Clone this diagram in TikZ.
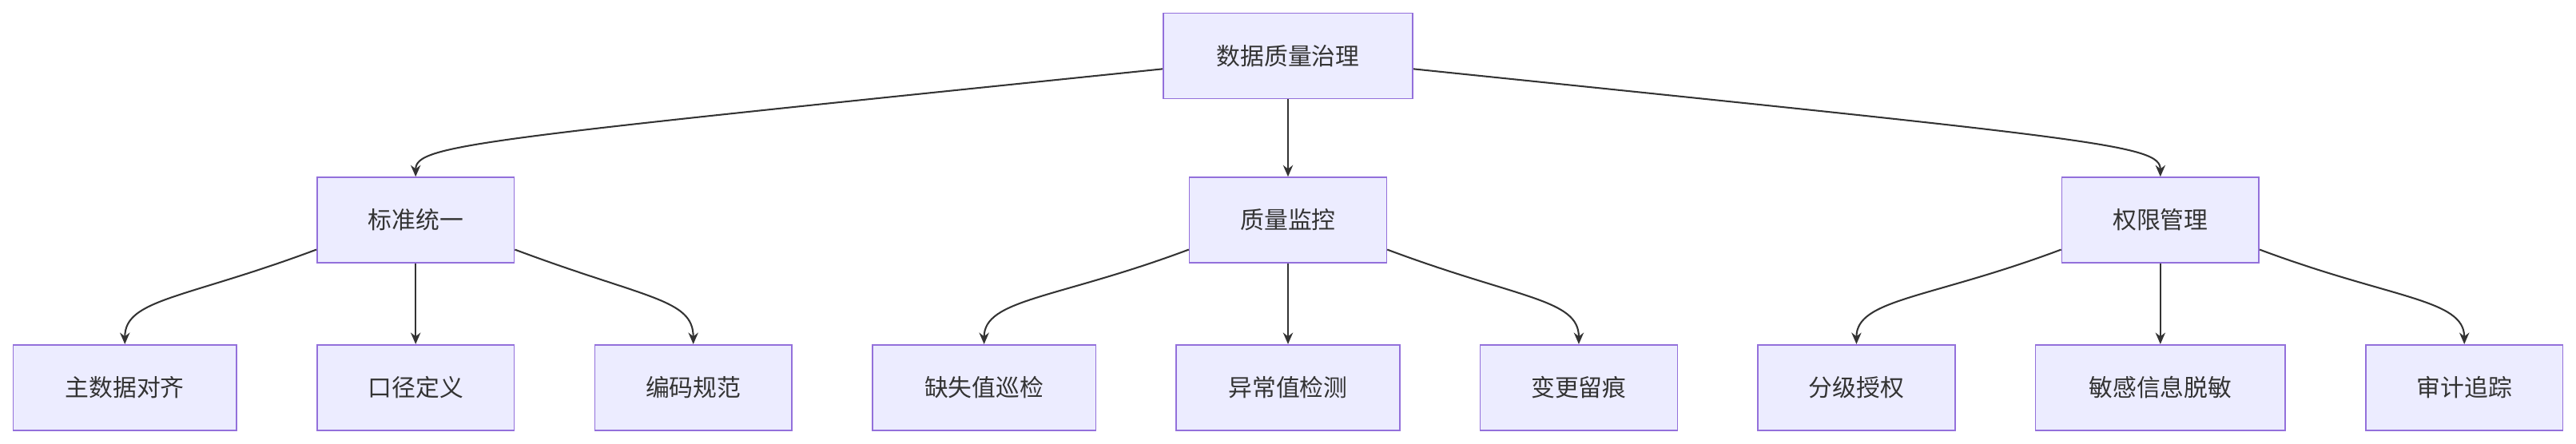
\documentclass[tikz,border=0pt]{standalone}
\usepackage{fontspec}
\newfontfamily\cjk{Noto Sans CJK SC}
\usetikzlibrary{arrows.meta}
\begin{document}
\begin{tikzpicture}[x=1pt,y=-1pt,
  box/.style={draw=#1,fill=boxfill,line width=0.8pt,minimum height=52pt,font=\cjk\fontsize{14.5}{17}\selectfont,text=textc},
  box/.default=boxline,
  arr/.style={draw=linec,line width=1pt,-{Stealth[length=7pt,width=6pt]}}]
\definecolor{boxfill}{HTML}{ECECFF}
\definecolor{boxline}{HTML}{9370DB}
\definecolor{linec}{HTML}{333333}
\definecolor{textc}{HTML}{333333}
\useasboundingbox (0,0) rectangle (1568,270.4);
\newcommand{\bx}[5]{\node[box,minimum width=#3-#2] (#1) at ({(#2+#3)/2},#4) {#5};}
\bx{r}{708}{860}{34}{数据质量治理}
\bx{a}{193}{313}{134}{标准统一}
\bx{b}{724}{844}{134}{质量监控}
\bx{c}{1255}{1375}{134}{权限管理}
\bx{a1}{8}{144}{236}{主数据对齐}
\bx{a2}{193}{313}{236}{口径定义}
\bx{a3}{362}{482}{236}{编码规范}
\bx{b1}{531}{667}{236}{缺失值巡检}
\bx{b2}{716}{852}{236}{异常值检测}
\bx{b3}{901}{1021}{236}{变更留痕}
\bx{c1}{1070}{1190}{236}{分级授权}
\bx{c2}{1239}{1391}{236}{敏感信息脱敏}
\bx{c3}{1440}{1560}{236}{审计追踪}
\draw[arr] (r.west|-0,42) .. controls (290,85) and (253,88) .. (a.north);
\draw[arr] (r.south) -- (b.north);
\draw[arr] (r.east|-0,42) .. controls (1278,85) and (1315,88) .. (c.north);
\foreach \p/\l/\m/\rr in {a/a1/a2/a3,b/b1/b2/b3,c/c1/c2/c3}{
  \draw[arr] (\p.west|-0,152) .. controls ([xshift=-80pt]\p.west|-0,182) and (\l.north|-0,182) .. (\l.north);
  \draw[arr] (\p.south) -- (\m.north);
  \draw[arr] (\p.east|-0,152) .. controls ([xshift=80pt]\p.east|-0,182) and (\rr.north|-0,182) .. (\rr.north);
}
\end{tikzpicture}
\end{document}
